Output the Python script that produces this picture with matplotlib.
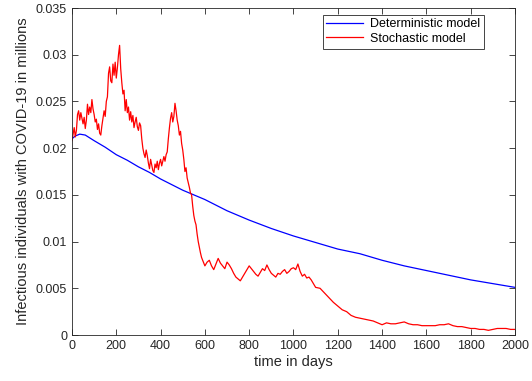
import matplotlib.pyplot as plt

plt.rcParams['font.family'] = ['Liberation Sans', 'DejaVu Sans']

# deterministic model
det_days = [0, 15, 35, 60, 100, 150, 200, 250, 300, 350, 400, 450, 500, 550,
            600, 700, 800, 900, 1000, 1100, 1200, 1300, 1400, 1500, 1600,
            1700, 1800, 1900, 2000]
det_vals = [0.0210, 0.0213, 0.0215, 0.0214, 0.0208, 0.0201, 0.0193, 0.0187,
            0.0180, 0.0174, 0.0167, 0.0161, 0.0155, 0.0150, 0.0145, 0.0133,
            0.0123, 0.0114, 0.0106, 0.0099, 0.0092, 0.0087, 0.0080, 0.0074,
            0.0069, 0.0064, 0.0059, 0.0055, 0.0051]

sto_days_a = list(range(0, 605, 5))
sto_vals_a = [0.0208, 0.0215, 0.0222, 0.0212, 0.0219, 0.0236, 0.0240, 0.0230,
              0.0238, 0.0232, 0.0226, 0.0233, 0.0221, 0.0230, 0.0247, 0.0236,
              0.0244, 0.0238, 0.0252, 0.0242, 0.0236, 0.0228, 0.0231, 0.0220,
              0.0226, 0.0216, 0.0214, 0.0224, 0.0232, 0.0240, 0.0234, 0.0250,
              0.0255, 0.0280, 0.0287, 0.0272, 0.0270, 0.0290, 0.0278, 0.0292,
              0.0275, 0.0286, 0.0300, 0.0310, 0.0285, 0.0270, 0.0258, 0.0262,
              0.0240, 0.0252, 0.0238, 0.0244, 0.0230, 0.0239, 0.0228, 0.0235,
              0.0222, 0.0228, 0.0233, 0.0223, 0.0219, 0.0227, 0.0224, 0.0210,
              0.0200, 0.0194, 0.0190, 0.0198, 0.0192, 0.0184, 0.0178, 0.0188,
              0.0182, 0.0176, 0.0174, 0.0183, 0.0179, 0.0186, 0.0177, 0.0184,
              0.0188, 0.0181, 0.0186, 0.0191, 0.0186, 0.0193, 0.0196, 0.0210,
              0.0222, 0.0232, 0.0238, 0.0228, 0.0234, 0.0248, 0.0240, 0.0230,
              0.0224, 0.0214, 0.0218, 0.0205, 0.0198, 0.0188, 0.0175, 0.0179,
              0.0168, 0.0163, 0.0158, 0.0152, 0.0150, 0.0138, 0.0128, 0.0122,
              0.0118, 0.0108, 0.0100, 0.0094, 0.0088, 0.0083, 0.0080, 0.0077,
              0.0074]
sto_days_b = list(range(610, 1110, 10))
sto_vals_b = [0.0078, 0.0080, 0.0074, 0.0070, 0.0076, 0.0082, 0.0077, 0.0074,
              0.0071, 0.0078, 0.0075, 0.0071, 0.0066, 0.0062, 0.0060, 0.0058,
              0.0062, 0.0066, 0.0070, 0.0074, 0.0071, 0.0068, 0.0065, 0.0063,
              0.0067, 0.0071, 0.0069, 0.0075, 0.0070, 0.0066, 0.0064, 0.0062,
              0.0066, 0.0065, 0.0068, 0.0070, 0.0066, 0.0068, 0.0071, 0.0072,
              0.0070, 0.0076, 0.0068, 0.0063, 0.0065, 0.0061, 0.0062, 0.0059,
              0.0055, 0.0051]
sto_days_c = list(range(1120, 2020, 20))
sto_vals_c = [0.0050, 0.0045, 0.0040, 0.0035, 0.0031, 0.0027, 0.0025, 0.0021,
              0.0019, 0.0018, 0.0017, 0.0016, 0.0015, 0.0013, 0.0011,
              0.0013, 0.0012, 0.0012, 0.0013, 0.0014,
              0.0012, 0.0011, 0.0011, 0.0010, 0.0010,
              0.0010, 0.0010, 0.0011, 0.0011, 0.0012,
              0.0010, 0.0009, 0.0009, 0.0008, 0.0007,
              0.0007, 0.0006, 0.0006, 0.0005, 0.0006,
              0.0007, 0.0007, 0.0007, 0.0006, 0.0006]

x_ticks = [0, 200, 400, 600, 800, 1000, 1200, 1400, 1600, 1800, 2000]
y_ticks = [0, 0.005, 0.01, 0.015, 0.02, 0.025, 0.03, 0.035]
y_labels = ['0', '0.005', '0.01', '0.015', '0.02', '0.025', '0.03', '0.035']

sto_days = sto_days_a + sto_days_b + sto_days_c
sto_vals = sto_vals_a + sto_vals_b + sto_vals_c

fig = plt.figure(figsize=(5.32, 3.81), dpi=100)
ax = fig.add_axes([0.1353, 0.1207, 0.8327, 0.8583])

ax.plot(det_days, det_vals, color='#0000ff', lw=0.9, label='Deterministic model')
ax.plot(sto_days, sto_vals, color='#ff0000', lw=0.9, label='Stochastic model')

ax.set_xlim(0, 2000)
ax.set_ylim(0, 0.035)
ax.set_xticks(x_ticks)
ax.set_yticks(y_ticks)
ax.set_yticklabels(y_labels)
ax.tick_params(direction='in', top=True, right=True, length=4, width=0.6,
               labelsize=9, colors='#262626')
for s in ax.spines.values():
    s.set_color('#262626')
    s.set_linewidth(0.6)

ax.set_xlabel('time in days', fontsize=10.5, color='#262626', labelpad=2)
ax.set_ylabel('Infectious individuals with COVID-19 in millions', fontsize=10.5,
              color='#262626', labelpad=4)

leg = ax.legend(loc='upper right', bbox_to_anchor=(0.930, 0.98), borderaxespad=0,
                fontsize=9, fancybox=False, framealpha=1, edgecolor='#262626',
                handlelength=2.9, handletextpad=0.6, borderpad=0.3,
                labelspacing=0.2)
leg.get_frame().set_linewidth(0.6)

fig.savefig('out.png', dpi=100)
